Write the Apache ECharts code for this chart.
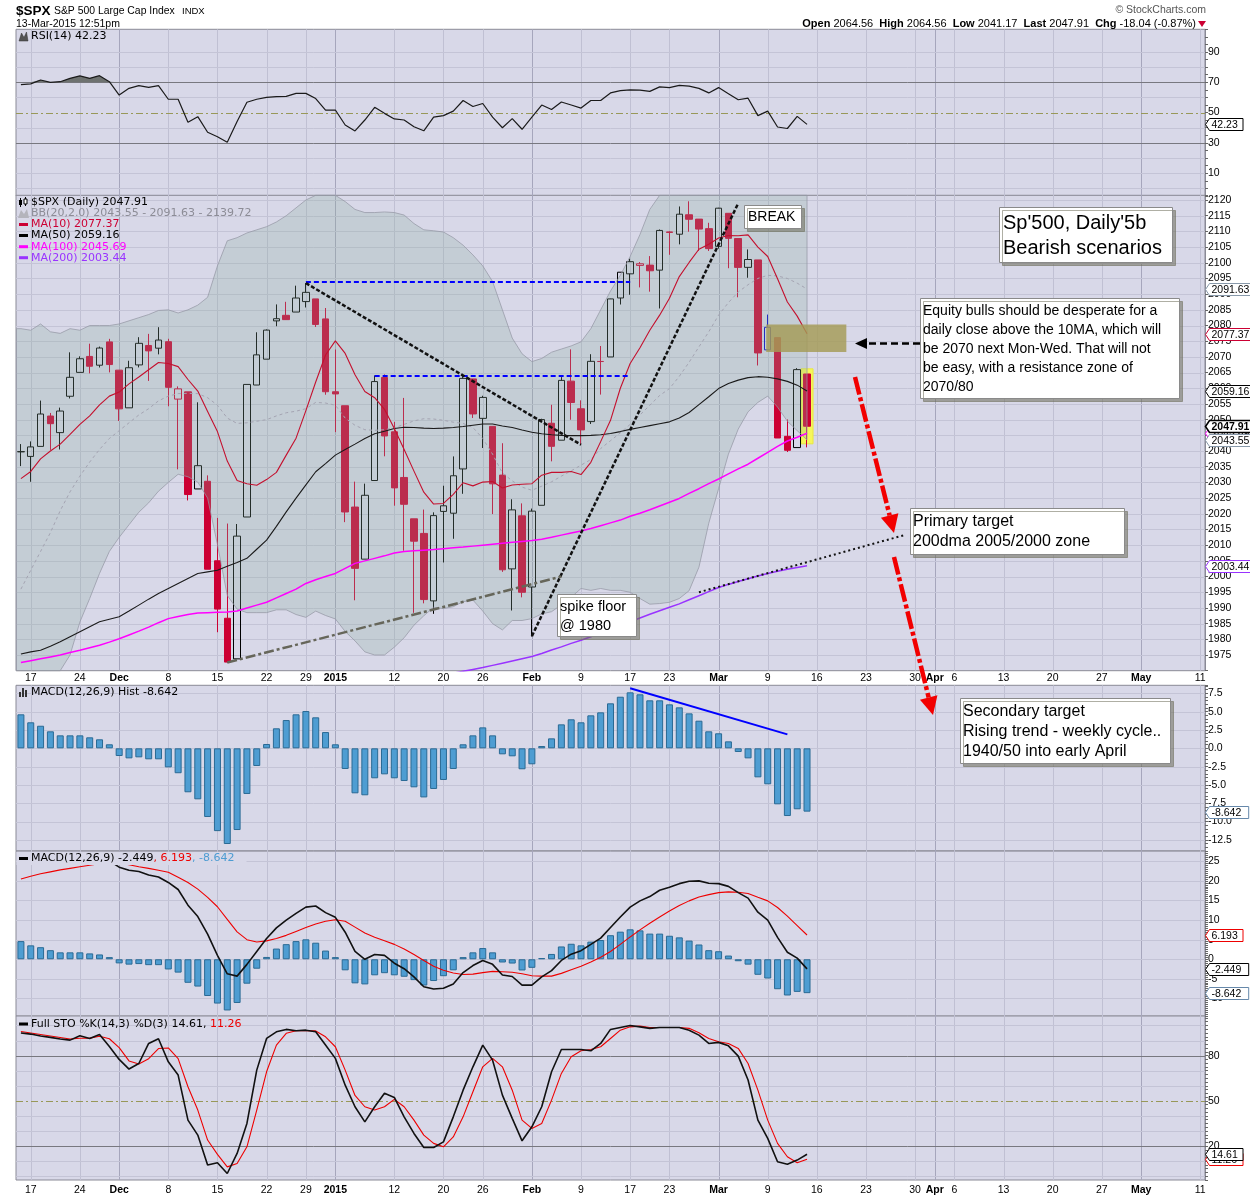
<!DOCTYPE html>
<html><head><meta charset="utf-8">
<script src="https://cdn.jsdelivr.net/npm/echarts/dist/echarts.min.js"></script>
<style>html,body{margin:0;padding:0;background:#fff}#c{width:1250px;height:1200px}</style>
</head><body><div id="c"></div>
<script>
const cats = [
'2014-11-14','2014-11-17','2014-11-18','2014-11-19','2014-11-20','2014-11-21','2014-11-24','2014-11-25','2014-11-26','2014-11-28',
'2014-12-01','2014-12-02','2014-12-03','2014-12-04','2014-12-05','2014-12-08','2014-12-09','2014-12-10','2014-12-11','2014-12-12',
'2014-12-15','2014-12-16','2014-12-17','2014-12-18','2014-12-19','2014-12-22','2014-12-23','2014-12-24','2014-12-26','2014-12-29',
'2014-12-30','2014-12-31','2015-01-02','2015-01-05','2015-01-06','2015-01-07','2015-01-08','2015-01-09','2015-01-12','2015-01-13',
'2015-01-14','2015-01-15','2015-01-16','2015-01-20','2015-01-21','2015-01-22','2015-01-23','2015-01-26','2015-01-27','2015-01-28',
'2015-01-29','2015-01-30','2015-02-02','2015-02-03','2015-02-04','2015-02-05','2015-02-06','2015-02-09','2015-02-10','2015-02-11',
'2015-02-12','2015-02-13','2015-02-17','2015-02-18','2015-02-19','2015-02-20','2015-02-23','2015-02-24','2015-02-25','2015-02-26',
'2015-02-27','2015-03-02','2015-03-03','2015-03-04','2015-03-05','2015-03-06','2015-03-09','2015-03-10','2015-03-11','2015-03-12',
'2015-03-13','2015-03-16','2015-03-17','2015-03-18','2015-03-19','2015-03-20','2015-03-23','2015-03-24','2015-03-25','2015-03-26',
'2015-03-27','2015-03-30','2015-03-31','2015-04-01','2015-04-02','2015-04-06','2015-04-07','2015-04-08','2015-04-09','2015-04-10',
'2015-04-13','2015-04-14','2015-04-15','2015-04-16','2015-04-17','2015-04-20','2015-04-21','2015-04-22','2015-04-23','2015-04-24',
'2015-04-27','2015-04-28','2015-04-29','2015-04-30','2015-05-01','2015-05-04','2015-05-05','2015-05-06','2015-05-07','2015-05-08',
'2015-05-11'];
const xLabelIdx = [1,6,10,15,20,25,29,32,38,43,47,52,57,62,66,71,76,81,86,91,93,95,100,105,110,114,120];
const xLabelTxt = ['17','24','Dec','8','15','22','29','2015','12','20','26','Feb','9','17','23','Mar','9','16','23','30','Apr','6','13','20','27','May','11'];
const boldLabels = ['Dec','2015','Feb','Mar','Apr','May'];

const open = [2039.74,2038.29,2041.48,2051.16,2045.87,2057.46,2065.07,2070.15,2067.36,2074.78,
2065.78,2053.77,2067.45,2073.64,2072.78,2074.84,2056.55,2058.86,2027.92,2030.36,
2005.03,1986.71,1973.77,2018.98,2061.04,2069.28,2081.48,2083.25,2084.30,2087.63,
2088.49,2082.11,2058.90,2054.44,2022.15,2005.55,2030.61,2063.45,2046.13,2031.58,
2018.40,2013.75,1992.25,2020.76,2020.19,2034.30,2062.98,2050.42,2047.86,2032.34,
2002.45,2019.35,1996.67,2022.71,2048.86,2043.45,2062.28,2053.47,2049.38,2068.55,
2069.98,2088.78,2096.47,2099.16,2099.25,2097.65,2109.83,2109.10,2115.30,2113.91,
2110.88,2105.23,2115.76,2107.72,2098.54,2100.91,2072.25,2076.14,2044.69,2041.10,
2064.56];
const high = [2042.22,2043.07,2056.08,2052.14,2053.84,2071.46,2070.17,2074.21,2073.29,2075.76,
2065.78,2068.77,2076.28,2077.34,2079.47,2075.78,2060.60,2058.86,2055.53,2032.25,
2018.69,2016.89,2016.75,2061.23,2077.85,2078.76,2086.73,2087.56,2092.70,2093.55,
2088.49,2085.58,2072.36,2054.44,2030.25,2029.61,2064.08,2064.43,2049.30,2056.93,
2018.40,2021.35,2020.46,2028.94,2038.29,2064.62,2062.98,2057.62,2047.86,2042.49,
2024.64,2023.32,2021.66,2050.30,2054.74,2063.55,2072.40,2056.16,2070.86,2073.48,
2088.53,2097.03,2101.30,2100.23,2102.13,2110.61,2110.05,2117.94,2119.59,2113.91,
2112.74,2117.52,2115.76,2107.72,2104.25,2100.91,2083.49,2076.14,2050.08,2066.41,
2064.56];
const low = [2035.20,2030.20,2041.48,2040.37,2040.49,2056.75,2065.07,2064.75,2066.62,2065.06,
2049.57,2053.77,2066.65,2062.34,2070.81,2054.27,2034.17,2024.26,2027.92,2002.33,
1982.26,1972.56,1973.77,2018.98,2061.03,2069.28,2079.77,2081.86,2084.30,2085.75,
2079.53,2057.94,2046.04,2017.34,1992.44,2005.55,2030.61,2038.33,2022.58,2008.25,
1988.44,1991.47,1988.12,2004.49,2012.04,2026.38,2050.54,2040.97,2019.91,2001.49,
1989.18,1993.38,1980.90,2022.71,2036.72,2043.45,2049.97,2041.88,2048.62,2057.99,
2069.98,2086.70,2089.80,2092.15,2090.79,2085.44,2102.54,2105.87,2109.89,2103.76,
2103.75,2104.50,2098.26,2089.00,2095.22,2067.27,2072.21,2044.16,2039.69,2041.10,
2041.17];
const close = [2039.82,2041.32,2051.80,2048.72,2052.75,2063.50,2069.41,2067.03,2072.83,2067.56,
2053.44,2066.55,2074.33,2071.92,2075.37,2060.31,2059.82,2026.14,2035.33,2002.33,
1989.63,1972.74,2012.89,2061.23,2070.65,2078.54,2082.17,2081.88,2088.77,2090.57,
2080.35,2058.90,2058.20,2020.58,2002.61,2025.90,2062.14,2044.81,2028.26,2023.03,
2011.27,1992.67,2019.42,2022.55,2032.12,2063.15,2051.82,2057.09,2029.55,2002.16,
2021.25,1994.99,2020.85,2050.03,2041.51,2062.52,2055.47,2046.74,2068.59,2068.53,
2088.48,2096.99,2100.34,2099.68,2097.45,2110.30,2109.66,2115.48,2113.86,2110.74,
2104.50,2117.39,2107.78,2098.53,2101.04,2071.26,2079.43,2044.16,2040.24,2065.95,
2047.91];

const ma10 = [2031.2,2033.5,2037.5,2040.0,2042.2,2045.3,2048.5,2051.2,2054.7,2057.5,
2058.8,2061.4,2063.6,2065.9,2068.2,2067.9,2066.9,2062.8,2059.1,2052.6,
2046.2,2036.8,2030.6,2029.6,2029.1,2030.9,2033.2,2038.7,2044.1,2052.9,
2062.0,2070.6,2075.1,2071.1,2064.3,2059.0,2057.0,2053.3,2047.2,2040.5,
2033.6,2026.9,2023.1,2023.3,2026.2,2029.9,2028.9,2030.1,2030.3,2028.2,
2029.2,2029.4,2029.6,2032.3,2033.2,2033.2,2033.5,2032.5,2036.4,2043.0,
2049.8,2060.0,2067.9,2072.9,2078.5,2083.3,2088.7,2095.6,2100.1,2104.3,
2105.9,2107.9,2108.7,2108.6,2108.9,2105.0,2102.0,2094.9,2087.5,2083.0,
2077.37];
const ma50 = [1975.3,1976.0,1976.5,1977.8,1979.2,1980.8,1982.4,1984.0,1985.6,1986.4,
1987.2,1989.0,1990.9,1992.8,1994.6,1996.2,1997.8,1999.4,2001.0,2001.5,
2002.0,2003.3,2004.5,2005.8,2008.7,2011.6,2016.0,2020.6,2025.0,2029.2,
2033.4,2036.0,2038.7,2040.5,2042.2,2044.0,2045.5,2046.3,2047.2,2047.6,
2047.5,2047.3,2047.2,2047.3,2047.5,2047.8,2048.2,2048.6,2048.6,2048.0,
2047.5,2046.7,2046.0,2045.5,2045.2,2045.0,2044.9,2044.9,2045.0,2045.2,
2045.6,2046.2,2046.9,2047.5,2048.1,2048.7,2049.3,2050.5,2052.3,2054.8,
2057.3,2059.9,2061.5,2062.6,2063.4,2063.7,2063.5,2063.0,2062.2,2061.0,
2059.16];
const ma100 = [1972.6,1973.2,1973.8,1974.4,1975.0,1975.8,1976.5,1977.3,1978.1,1979.1,
1980.2,1981.4,1982.6,1983.9,1985.3,1986.6,1987.3,1987.9,1988.4,1988.5,
1988.6,1988.7,1989.0,1990.0,1990.9,1991.8,1993.2,1994.6,1996.0,1997.8,
1999.0,2000.0,2001.0,2002.6,2004.2,2005.0,2005.8,2006.6,2007.5,2008.0,
2008.2,2008.4,2008.6,2008.9,2009.2,2009.4,2009.7,2010.0,2010.3,2010.6,
2010.9,2011.2,2011.5,2011.9,2012.5,2013.2,2013.9,2014.5,2015.3,2016.2,
2017.1,2018.0,2019.2,2020.2,2021.3,2022.5,2023.7,2024.9,2026.5,2028.0,
2029.6,2031.1,2032.7,2034.3,2035.8,2037.7,2039.6,2041.5,2043.2,2044.4,
2045.69];
const ma200 = [null,null,null,null,null,null,null,null,null,null,
null,null,null,null,null,null,null,null,null,null,
null,null,null,null,null,null,null,null,null,null,
null,null,null,null,null,null,null,null,null,null,
null,null,1968.0,1968.6,1969.2,1969.8,1970.4,1971.0,1971.7,1972.4,
1973.1,1973.8,1974.5,1975.5,1976.6,1977.6,1978.7,1979.7,1980.8,1982.0,
1983.2,1984.4,1985.6,1986.8,1988.0,1989.1,1990.2,1991.3,1992.6,1993.9,
1995.2,1996.5,1997.5,1998.4,1999.3,2000.2,2001.0,2001.7,2002.3,2002.9,
2003.44];
const bbUpper = [2079,2078.5,2080.5,2078,2077.5,2079,2078.5,2080,2080,2080,
2080.5,2081.5,2082.5,2083.5,2084.8,2085,2084,2085,2086.5,2089,
2099,2107,2108,2109.5,2110.5,2111.5,2113,2115,2117.5,2120,
2122,2123,2122,2119.5,2117,2116,2116,2116.2,2116,2115.2,
2112.5,2110.5,2110.2,2109.8,2108,2105.6,2102.5,2099,2094,2085,
2076,2071,2068.5,2069.5,2071.5,2072.5,2073.5,2074.8,2079,2085,
2091,2096,2102,2109,2117,2124,2128,2131,2134,2136,
2138,2140,2141,2141.5,2141.5,2141,2140.5,2140,2140,2139.8,
2139.72];
const bbMid = [1996,2002,2008,2014,2021,2027,2032,2036.5,2040.5,2044,
2046.5,2049,2051.5,2053.5,2056,2057.5,2058.3,2058.4,2058.3,2057,
2054.6,2050.5,2048.8,2049,2049.5,2050,2051.2,2052.2,2052.7,2053.5,
2055.5,2055.3,2054.6,2050.5,2048.2,2046.8,2046.6,2046.8,2047.4,2048.5,
2049.6,2050.3,2050.2,2049.8,2049.2,2048.8,2047.5,2044,2039,2033,
2030.5,2028.5,2027.5,2028.8,2030.2,2032,2033.7,2035.5,2037.3,2040.8,
2043.3,2045.8,2048.5,2051.5,2054.6,2057.7,2059.9,2063.8,2068.3,2073.2,
2078,2083.3,2087.3,2090.7,2093,2095,2096,2095.8,2095,2093.5,
2091.63];
const bbLower = [1913,1925.5,1935.5,1950,1964.5,1975,1985.5,1993,2001,2008,
2012.5,2016.5,2020.5,2023.5,2027.2,2030,2032.6,2031.8,2030.1,2025,
2010.2,1994,1989.6,1988.5,1988.5,1988.5,1989.4,1989.4,1987.9,1987,
1989,1987.6,1986.5,1982.5,1979.5,1976,1975,1975,1977.5,1980.5,
1984.5,1987.5,1990.2,1989.8,1990.4,1992,1992.5,1989,1985,1983,
1986,1986,1986.6,1988.1,1988.8,1991,1993.4,1996.2,1995.6,1996.2,
1995.6,1995.6,1995,1993,1991.2,1991.4,1991.8,1993,1995.5,2003,
2017,2028,2039,2047,2052.5,2055.5,2057.5,2054,2049.5,2046.5,
2043.55];

const rsi = [68.5,69,71.5,70,70.4,72.6,74.2,72.6,74.4,70.4,
61.6,66,67.8,66.7,67.8,58.8,58.8,43.6,47.3,37,
34.1,30.4,44.1,56.8,58.8,60.1,60.5,60.7,62.7,62.7,
59.3,51.7,51.7,41.8,37.9,45.1,53.5,49.5,45.8,45.1,
40.7,38,47,48,51,58,54,56,47,40,
46,39,47,55,52,57,55,53,58,58,
63,64.5,65,64.8,64,67,66.5,68,67.5,66,
63,66.5,62.5,58.5,59.5,48,51,40.5,39.5,47.5,
42.23];
const macdHist = [4.64,3.55,3.08,2.32,1.77,1.77,1.77,1.5,1.23,0.55,
-1.05,-1.37,-1.23,-1.5,-1.5,-2.6,-3.4,-6.0,-6.96,-9.37,
-11.3,-13.06,-11.15,-6.23,-2.41,0.59,2.73,3.86,4.64,5.09,
4.23,2.22,0.55,-2.82,-6.14,-6.41,-4.09,-3.55,-4.09,-4.46,
-5.32,-6.7,-5.55,-4.32,-2.82,0.55,1.77,2.86,1.77,-0.82,
-1.09,-2.86,-2.18,0.31,1.36,3.27,3.96,3.55,4.5,4.91,
6.14,7.04,7.64,7.37,6.55,6.55,6.0,5.59,4.77,3.77,
2.32,2.05,0.95,-0.5,-1.37,-3.96,-4.91,-7.64,-9.24,-8.32,
-8.642];
const macdLine = [25.1,24.8,24.9,24.6,24.6,25.0,25.4,25.5,25.6,25.1,
23.5,22.7,22.4,21.5,21.0,19.6,17.8,13.8,10.9,6.4,
1.0,-3.7,-4.3,-1.3,2.0,5.3,8.0,10.0,11.7,13.3,
13.6,11.9,10.7,6.9,2.0,0.0,1.2,1.0,-1.0,-2.4,
-4.5,-7.0,-7.6,-7.4,-6.3,-3.4,-1.6,-0.3,-1.3,-4.0,
-4.4,-6.6,-6.6,-4.5,-2.9,-0.3,1.3,2.2,3.8,5.4,
8.1,10.8,13.3,14.9,16.0,17.6,18.4,19.3,19.9,20.0,
19.4,19.3,18.6,17.0,15.6,12.0,10.0,5.6,1.8,0.3,
-2.449];
const macdSignal = [20.5,21.2,21.8,22.3,22.8,23.2,23.6,24.0,24.4,24.5,
24.5,24.1,23.6,23.2,22.7,22.2,20.9,19.6,17.9,15.8,
13.4,10.2,7.0,5.0,4.4,4.7,5.3,6.1,7.1,8.1,
9.0,9.7,10.1,9.7,8.2,6.7,5.6,4.7,3.8,2.6,
1.2,-0.3,-1.8,-2.8,-3.5,-3.9,-3.8,-3.4,-3.1,-3.2,
-3.3,-3.7,-4.2,-4.3,-4.3,-3.6,-2.7,-1.8,-0.7,0.5,
2.0,3.8,5.7,7.5,9.2,10.8,12.3,13.7,14.9,15.9,
16.5,17.0,17.2,17.1,16.8,15.8,14.9,13.2,11.0,8.6,
6.193];
const stoK = [95,94.3,93,92.1,91,90.3,93.2,91.4,94.1,86,
77.5,71.1,74.8,88.1,91.2,75.9,67.1,37.2,27.3,7.4,
8.9,1.8,15.1,35,70.4,91.4,95.8,97.4,96.5,96.9,
95.8,87,78.2,60.4,46.1,36.1,46.1,55,52.3,39.4,
28.4,19.1,19.1,22.8,39.4,57.1,72.6,87,77,53.8,
38.4,23.5,32.8,46.1,69.3,84.1,84.1,84.1,83.2,88.1,
97.4,98.7,100,99.1,98.1,98.7,98.7,98.7,96.9,93.6,
88.1,88.8,86.5,79.7,63.8,37.2,25.1,9.6,8,10.7,
14.61];
const stoD = [96,95,94,93,92,91,91.5,91.6,92.9,91.2,
85.3,76.5,74.5,78,84.7,85.1,78,59.4,43.9,24,
14.5,6.2,8.5,19.5,43.9,69.3,87,94.8,96.5,96.5,
96.4,92.5,85.9,70.4,53.6,46.1,43.9,46.1,51,46.1,
37.2,27.3,21.8,19.5,26.1,39.4,56,72.6,78.2,72.6,
57.1,37.2,31.7,35,50.5,68.2,79.3,83.2,84.1,85.9,
91.4,96.9,99.1,99.6,98.7,98.7,98.7,98.7,98.1,95.2,
91.4,89.2,88.1,84.8,74.8,57.1,37.2,21.8,12.9,8.9,
11.26];

const rsiTicks = [10,30,50,70,90];
const priceTicks = [1975,1980,1985,1990,1995,2000,2005,2010,2015,2020,2025,2030,2035,2040,2045,2050,2055,2060,2065,2070,2075,2080,2085,2090,2095,2100,2105,2110,2115,2120];
const histTicks = [-12.5,-10,-7.5,-5,-2.5,0,2.5,5,7.5];
const macdTicks = [-10,-5,0,5,10,15,20,25];
const stoTicks = [20,50,80];

const FONT = '"Liberation Sans", Arial, sans-serif';
const LFONT = '"DejaVu Sans", Verdana, sans-serif';
const BG = '#d8d8e8';
const RED = '#cc0033';

const chart = echarts.init(document.getElementById('c'), null, {renderer:'canvas', width:1250, height:1200});

const G = [
  {top:29.3, height:166.6},
  {top:195.3, height:475.4},
  {top:685.3, height:165.6},
  {top:851.1, height:165},
  {top:1016, height:164}
];
const grids = G.map(g => ({left:16, width:1189, top:g.top, height:g.height, show:true, backgroundColor:BG,
  borderColor:'#8a8a96', borderWidth:1, containLabel:false, outerBoundsMode:'none'}));

function xAx(gi, show, margin) {
  return {gridIndex:gi, type:'category', data:cats, boundaryGap:true,
    axisLine:{show:false}, axisTick:{show:false}, splitLine:{show:false},
    axisLabel:{show:show, margin:margin, fontSize:10.5, color:'#000', fontFamily:FONT,
      interval:(idx) => xLabelIdx.indexOf(idx) >= 0,
      formatter:(val, idx) => { const k = xLabelIdx.indexOf(idx); if (k < 0) return ''; const t = xLabelTxt[k]; return boldLabels.indexOf(t) >= 0 ? '{b|' + t + '}' : t; },
      rich:{b:{fontWeight:'bold', fontSize:10.5, color:'#000', fontFamily:FONT}}}};
}
function yAx(gi, min, max, interval, fmt) {
  return {gridIndex:gi, type:'value', position:'right', min, max, interval, scale:false,
    splitLine:{show:false},
    axisLine:{show:true, lineStyle:{color:'#8a8a96'}},
    axisTick:{show:true, length:3, lineStyle:{color:'#666'}},
    axisLabel:{fontSize:10.5, color:'#000', margin:3, fontFamily:FONT, formatter:fmt}};
}
const near = (arr, v) => arr.some(t => Math.abs(t - v) < 1e-6);

function glRender(params, api) {
  const cs = params.coordSys;
  const k = api.value(2);
  if (k === 0 || k === 4) {
    const x = Math.round(api.coord([api.value(0), api.value(1)])[0]) + 0.5;
    return {type:'line', shape:{x1:x, y1:cs.y, x2:x, y2:cs.y + cs.height},
      style:{stroke: k === 4 ? '#a6a6bc' : '#c0c0d3', lineWidth:1}};
  }
  const y = Math.round(api.coord([0, api.value(1)])[1]) + 0.5;
  const st = k === 2 ? {stroke:'#78787f', lineWidth:1}
    : k === 3 ? {stroke:'#989858', lineWidth:1, lineDash:[7,3,2,3]}
    : {stroke:'#c4c4d6', lineWidth:1};
  return {type:'line', shape:{x1:cs.x, y1:y, x2:cs.x + cs.width, y2:y}, style:st};
}
function glSeries(gi, ymin, hl) {
  const data = [];
  xLabelIdx.forEach((ix, k) => data.push([ix, ymin, boldLabels.indexOf(xLabelTxt[k]) >= 0 ? 4 : 0]));
  hl.forEach(h => data.push([0, h[0], h[1]]));
  return {type:'custom', xAxisIndex:gi, yAxisIndex:gi, z:0, silent:true, encode:{x:0, y:1}, data, renderItem:glRender};
}

const rsiH = [[0,1],[10,1],[20,1],[40,1],[60,1],[80,1],[90,1],[30,2],[70,2],[50,3]];
const priceH = priceTicks.map(v => [v,1]);
const histH = histTicks.map(v => [v,1]);
const macdH = macdTicks.map(v => [v,1]);
const stoH = [[0,1],[10,1],[30,1],[40,1],[60,1],[70,1],[90,1],[100,1],[20,2],[80,2],[50,3]];

const candleData = open.map((o, i) => {
  const c = close[i];
  const col = (i > 0 && c < close[i-1]) ? RED : '#000';
  const fill = c > o ? 'rgba(0,0,0,0)' : col;
  const bc = i === 76 ? '#0000cc' : col;
  return {value:[o, c, low[i], high[i]], itemStyle:{color:fill, color0:fill, borderColor:bc, borderColor0:bc, borderWidth:1}};
});

const rsiOver = rsi.map((v, i) => i <= 10 ? Math.max(v, 70) : null);

const lineS = (gi, data, color, width, z, extra) => Object.assign({type:'line', xAxisIndex:gi, yAxisIndex:gi, data,
  showSymbol:false, symbol:'none', silent:true, z, lineStyle:{color, width}, itemStyle:{color}}, extra || {});

const annLines = [
  [{coord:[29,2094], lineStyle:{color:'#0000ff', width:2, type:[5,3]}}, {coord:[62,2094]}],
  [{coord:[36,2064], lineStyle:{color:'#0000ff', width:2, type:[5,3]}}, {coord:[62,2064]}],
  [{coord:[29,2093.5], lineStyle:{color:'#111', width:2.5, type:[4,2]}}, {coord:[57,2042]}],
  [{coord:[52,1981], lineStyle:{color:'#111', width:2.5, type:[4,2]}}, {coord:[73,2119]}],
  [{coord:[21,1972.6], lineStyle:{color:'#66665a', width:2.5, type:[10,3,3,3]}}, {coord:[55,2000]}],
  [{coord:[69,1995], lineStyle:{color:'#111', width:2, type:[2,3]}}, {coord:[90,2013.3]}]
];

const option = {
  animation:false,
  backgroundColor:'#fff',
  textStyle:{fontFamily:FONT},
  grid:grids,
  xAxis:[xAx(0,false,0), xAx(1,true,2), xAx(2,false,0), xAx(3,false,0), xAx(4,true,5)],
  yAxis:[
    yAx(0,-5,105,5, v => near(rsiTicks, v) ? String(v) : ''),
    yAx(1,1970,2121.5,5, v => (near(priceTicks, v)) ? String(v) : ''),
    yAx(2,-14,8.6,0.5, v => near(histTicks, v) ? v.toFixed(1) : ''),
    yAx(3,-14.5,27.6,0.5, v => near(macdTicks, v) ? String(Math.round(v)) : ''),
    yAx(4,-2.5,106.3,2.5, v => near(stoTicks, v) ? String(v) : '')
  ],
  series:[
    glSeries(0,-5,rsiH), glSeries(1,1970,priceH), glSeries(2,-14,histH), glSeries(3,-14.5,macdH), glSeries(4,-2.5,stoH),
    lineS(0, rsiOver, '#6e7270', 0, 1, {areaStyle:{color:'#6e7270', opacity:1, origin:70}, connectNulls:false}),
    lineS(0, rsi, '#1a1a1a', 1.2, 3),
    {type:'custom', xAxisIndex:1, yAxisIndex:1, z:1, silent:true, encode:{x:0, y:1}, data:[[80, 2066.2, 2042.3]],
      renderItem:(p, api) => { const a = api.coord([api.value(0), api.value(1)]); const b = api.coord([api.value(0), api.value(2)]);
        return {type:'rect', shape:{x:a[0]-6, y:a[1], width:12, height:b[1]-a[1]}, style:{fill:'#f6f65a', stroke:'#e8e840', lineWidth:1}}; }},
    {type:'candlestick', xAxisIndex:1, yAxisIndex:1, data:candleData, barWidth:7, z:2, silent:true},
    {type:'custom', xAxisIndex:1, yAxisIndex:1, z:3, silent:true, encode:{x:0, y:1}, data:[[0, 2000]],
      renderItem:(params, api) => {
        const cs = params.coordSys, top = cs.y, bot = cs.y + cs.height;
        const cl = y => Math.max(top, Math.min(bot, y));
        const up = [], lo = [];
        for (let i = 0; i < bbUpper.length; i++) {
          const p = api.coord([i, bbUpper[i]]); up.push([p[0], cl(p[1])]);
          const q = api.coord([i, bbLower[i]]); lo.push([q[0], cl(q[1])]);
        }
        up.unshift([cs.x + 0.5, up[0][1]]); lo.unshift([cs.x + 0.5, lo[0][1]]);
        return {type:'polygon', shape:{points: up.concat(lo.reverse())},
          style:{fill:'rgba(140,172,160,0.26)', stroke:'rgba(150,152,165,0.75)', lineWidth:1}};
      }},
    lineS(1, bbMid, '#a8a8b4', 1, 4, {lineStyle:{color:'#a4a4b2', width:1, type:[3,3]}}),
    lineS(1, ma200, '#9933ff', 1.5, 4),
    lineS(1, ma100, '#ff00ff', 1.5, 4),
    lineS(1, ma50, '#1a1a1a', 1.1, 4),
    lineS(1, ma10, '#c4102e', 1.1, 4, {markLine:{silent:true, symbol:['none','none'], label:{show:false}, z:5, animation:false, data:annLines}}),
    {type:'custom', xAxisIndex:1, yAxisIndex:1, z:6, silent:true, encode:{x:0, y:2}, data:[[76, 84, 2080.3, 2071.6]],
      renderItem:(p, api) => { const a = api.coord([api.value(0), api.value(2)]); const b = api.coord([api.value(1), api.value(3)]);
        return {type:'rect', shape:{x:a[0]-1.5, y:a[1], width:b[0]-a[0]+1.5, height:b[1]-a[1]}, style:{fill:'rgba(165,155,85,0.82)'}}; }},
    {type:'bar', xAxisIndex:2, yAxisIndex:2, data:macdHist, barWidth:7, z:2, silent:true,
      itemStyle:{color:'#4e9dd2', borderColor:'#2a6a94', borderWidth:1},
      markLine:{silent:true, symbol:['none','none'], label:{show:false}, z:5, animation:false,
        data:[[{coord:[62,8.2], lineStyle:{color:'#0000ff', width:2, type:'solid'}}, {coord:[78,1.9]}]]}},
    {type:'bar', xAxisIndex:3, yAxisIndex:3, data:macdHist, barWidth:7, z:2, silent:true,
      itemStyle:{color:'#4e9dd2', borderColor:'#2a6a94', borderWidth:1}},
    lineS(3, macdSignal, '#ee0000', 1.1, 3),
    lineS(3, macdLine, '#111', 1.6, 4),
    lineS(4, stoD, '#ee0000', 1.1, 3),
    lineS(4, stoK, '#111', 1.6, 4)
  ]
};
chart.setOption(option);

let zc = 100;
const E = [];
function T(x, y, text, st) { E.push({type:'text', x, y, z:zc++, silent:true,
  style:Object.assign({text, fill:'#000', fontSize:11, fontFamily:LFONT, verticalAlign:'middle', align:'left'}, st || {})}); }
function R(x, y, w, h, st) { E.push({type:'rect', z:zc++, silent:true, shape:{x, y, width:w, height:h}, style:st}); }
function Ln(x1, y1, x2, y2, st) { E.push({type:'line', z:zc++, silent:true, shape:{x1, y1, x2, y2}, style:st}); }
function Pg(points, st) { E.push({type:'polygon', z:zc++, silent:true, shape:{points}, style:st}); }

// header
T(16, 11, '$SPX', {fontSize:13.5, fontWeight:'bold', fontFamily:FONT});
T(54, 11, 'S&P 500 Large Cap Index', {fontSize:10.4, fontFamily:FONT});
T(182, 11, 'INDX', {fontSize:9.5, fontFamily:FONT});
T(16, 24, '13-Mar-2015 12:51pm', {fontSize:10.5, fontFamily:FONT});
T(1206, 10.5, '\u00a9 StockCharts.com', {fontSize:10.5, fontFamily:FONT, fill:'#555', align:'right'});
T(1196, 24, '{b|Open} 2064.56  {b|High} 2064.56  {b|Low} 2041.17  {b|Last} 2047.91  {b|Chg} -18.04 (-0.87%)',
  {fontSize:11, fontFamily:FONT, align:'right', rich:{b:{fontSize:11, fontFamily:FONT, fontWeight:'bold', fill:'#000'}}});
Pg([[1198,21],[1206,21],[1202,27]], {fill:RED});

// RSI legend
Pg([[19,41],[21.5,33],[24,37.5],[26.5,32],[28,41]], {fill:'#555', stroke:'#333', lineWidth:0.5});
T(31, 36.5, 'RSI(14) 42.23');
// price legend
Ln(20.5, 198, 20.5, 207, {stroke:'#000', lineWidth:1}); R(19, 200, 3, 5, {fill:'#000'});
Ln(25.5, 197, 25.5, 206, {stroke:'#000', lineWidth:1}); R(24, 199, 3, 5, {fill:'#fff', stroke:'#000', lineWidth:1});
T(31, 202.5, '$SPX (Daily) 2047.91');
Pg([[18,218],[21,210],[24,214],[27,209],[29,218]], {fill:'#b4b4bc'});
T(31, 213.5, 'BB(20,2.0) 2043.55 - 2091.63 - 2139.72', {fill:'#8c8c96'});
const legMA = [[224.5,'MA(10) 2077.37',RED],[235.5,'MA(50) 2059.16','#000'],[246.7,'MA(100) 2045.69','#ff00ff'],[257.7,'MA(200) 2003.44','#9933ff']];
legMA.forEach(m => { R(19, m[0]-1.5, 9, 3, {fill:m[2]}); T(31, m[0], m[1], {fill:m[2]}); });
// hist legend
[[19,5],[22,9],[25,7]].forEach(b => R(b[0], 697 - b[1], 2, b[1], {fill:'#333'}));
T(31, 692.5, 'MACD(12,26,9) Hist -8.642');
// MACD legend with background
R(16.5, 852, 230, 13, {fill:BG});
R(19, 857, 9, 3, {fill:'#000'});
T(31, 858.5, '{k|MACD(12,26,9) -2.449}{r|, 6.193}{c|, -8.642}', {rich:{
  k:{fontSize:11, fontFamily:LFONT, fill:'#000'}, r:{fontSize:11, fontFamily:LFONT, fill:'#ee0000'}, c:{fontSize:11, fontFamily:LFONT, fill:'#4d9cd2'}}});
// STO legend
R(19, 1022.5, 9, 3, {fill:'#000'});
T(31, 1024.5, '{k|Full STO %K(14,3) %D(3) 14.61, }{r|11.26}', {rich:{
  k:{fontSize:11, fontFamily:LFONT, fill:'#000'}, r:{fontSize:11, fontFamily:LFONT, fill:'#ee0000'}}});

// annotation boxes
const shadow = {shadowColor:'rgba(110,110,90,0.55)', shadowOffsetX:3, shadowOffsetY:3, shadowBlur:0};
function box(x, y, w, h, lines, fs, ys, tx) {
  R(x, y, w, h, Object.assign({fill:'#fff', stroke:'#8a8a8a', lineWidth:1}, shadow));
  lines.forEach((t, k) => T(tx, ys[k], t, {fontSize:fs, fontFamily:FONT}));
}
box(744.5, 205.5, 57, 23, ['BREAK'], 14, [217.5], 748);
box(999.5, 207.5, 173, 55, ["Sp'500, Daily'5b", 'Bearish scenarios'], 20, [223.5, 248.5], 1003);
box(920.5, 298.5, 259, 100, ['Equity bulls should be desperate for a', 'daily close above the 10MA, which will',
  'be 2070 next Mon-Wed. That will not', 'be easy, with a resistance zone of', '2070/80'], 14, [311, 330, 349, 368, 387], 923);
box(910.5, 508.5, 214, 46, ['Primary target', '200dma 2005/2000 zone'], 16, [522, 541.5], 913);
box(557.5, 594.5, 79, 42, ['spike floor', '@ 1980'], 14.5, [607, 626], 560);
box(960.5, 698.5, 210, 65, ['Secondary target', 'Rising trend - weekly cycle..', '1940/50 into early April'], 16, [712, 732, 752], 963);

// arrows
function arrow(x1, y1, x2, y2, color, width, dash, hl, hw) {
  const dx = x2 - x1, dy = y2 - y1, L = Math.hypot(dx, dy), ux = dx / L, uy = dy / L;
  const bx = x2 - ux * hl, by = y2 - uy * hl;
  Ln(x1, y1, bx, by, {stroke:color, lineWidth:width, lineDash:dash});
  Pg([[x2, y2], [bx - uy * hw, by + ux * hw], [bx + uy * hw, by - ux * hw]], {fill:color});
}
arrow(855, 377, 894, 533, '#f20000', 4.5, [18,3,4,3], 18, 9);
arrow(894, 557, 933, 715, '#f20000', 4.5, [18,3,4,3], 18, 9);
arrow(920, 343.5, 855, 343.5, '#000', 2.5, [7,4], 12, 5.5);

// right-axis value tags
const tags = [
  [0, 42.23, '42.23', '#000', false],
  [1, 2091.63, '2091.63', '#8899aa', false],
  [1, 2077.37, '2077.37', RED, false],
  [1, 2059.16, '2059.16', '#000', false],
  [1, 2045.69, '2045.69', '#ff00ff', false],
  [1, 2043.55, '2043.55', '#8899aa', false],
  [1, 2047.91, '2047.91', '#000', true],
  [1, 2003.44, '2003.44', '#9933ff', false],
  [2, -8.642, '-8.642', '#6688aa', false],
  [3, 6.193, '6.193', '#ee0000', false],
  [3, -2.449, '-2.449', '#000', false],
  [3, -8.642, '-8.642', '#6688aa', false],
  [4, 11.26, '11.26', '#ee0000', false],
  [4, 14.61, '14.61', '#000', false]
];
tags.forEach(t => {
  const y = Math.round(chart.convertToPixel({yAxisIndex:t[0]}, t[1])) + 0.5;
  const x0 = 1205.5, w = t[2].length * 5.7 + 5;
  Pg([[x0, y], [x0 + 4, y - 6], [x0 + 4 + w, y - 6], [x0 + 4 + w, y + 6], [x0 + 4, y + 6]],
    {fill:'#fff', stroke:t[3], lineWidth:t[4] ? 1.6 : 1});
  T(x0 + 6, y + 0.5, t[2], {fontSize:10.5, fontFamily:FONT, fontWeight:t[4] ? 'bold' : 'normal'});
});

chart.setOption({graphic:{elements:E}});
</script>
</body></html>
